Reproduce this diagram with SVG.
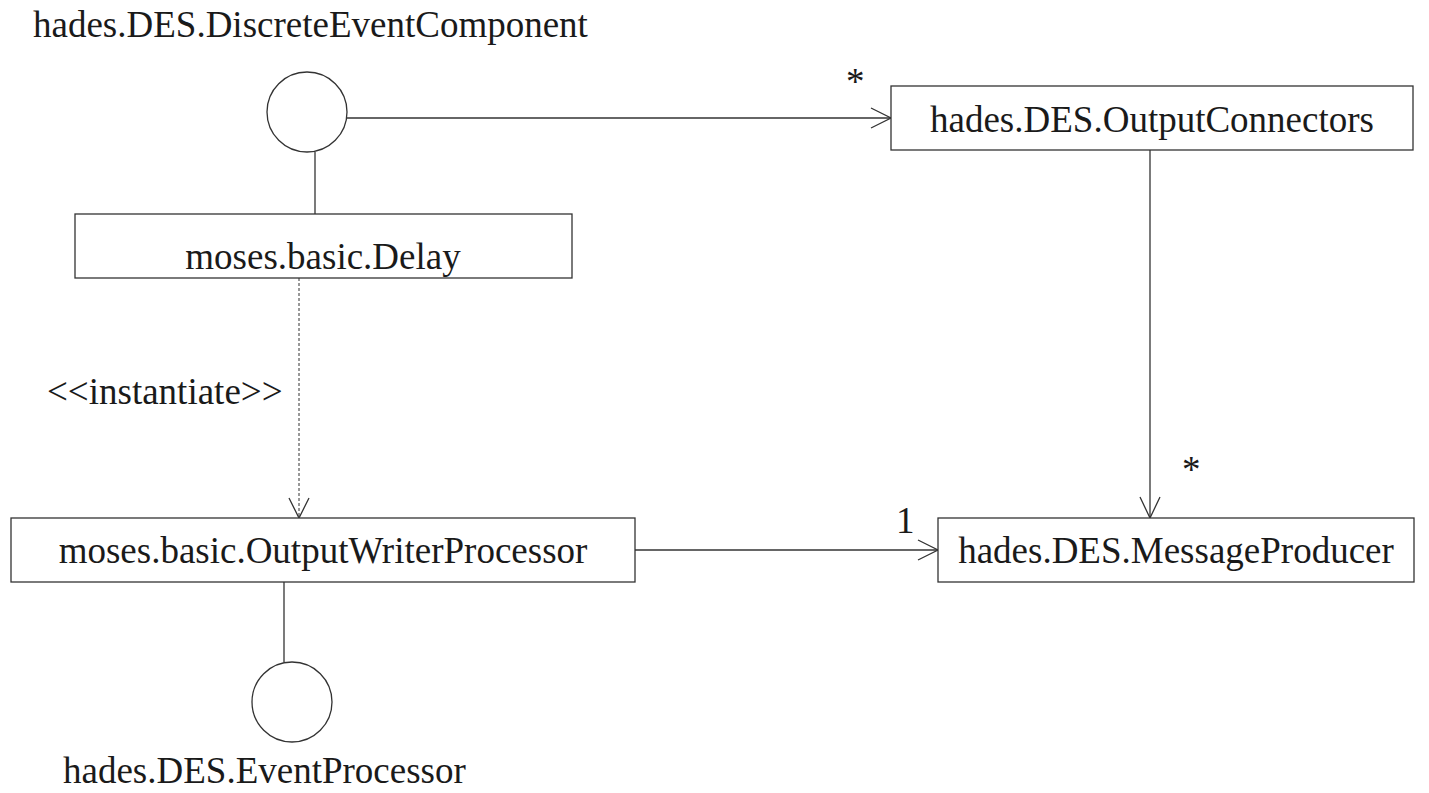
<svg xmlns="http://www.w3.org/2000/svg" width="1429" height="793" viewBox="0 0 1429 793">
  <style>
    .box { fill: #fff; stroke: #333; stroke-width: 1.3; }
    .ln { fill: none; stroke: #333; stroke-width: 1.3; }
    .dash { fill: none; stroke: #333; stroke-width: 1; stroke-dasharray: 3 2; }
    .t { font-family: "Liberation Serif", "Times New Roman", serif; font-size: 37px; fill: #1a1a1a; }
    .c { text-anchor: middle; }
  </style>
  <rect width="1429" height="793" fill="#fff"/>

  <g id="connectors">
    <!-- interface lollipop stems -->
    <line class="ln" x1="315" y1="152" x2="315" y2="214"/>
    <line class="ln" x1="284" y1="582" x2="284" y2="662"/>
    <!-- association to OutputConnectors -->
    <line class="ln" x1="347" y1="118" x2="891" y2="118"/>
    <polyline class="ln" points="871,108 891,118 871,128"/>
    <text class="t" x="846" y="94">*</text>
    <!-- OutputConnectors to MessageProducer -->
    <line class="ln" x1="1150" y1="150" x2="1150" y2="518"/>
    <polyline class="ln" points="1140,497 1150,518 1160,497"/>
    <text class="t" x="1182" y="482">*</text>
    <!-- instantiate dependency -->
    <line class="dash" x1="299" y1="278" x2="299" y2="517"/>
    <polyline class="ln" points="289,498 299,518 309,498"/>
    <text class="t" x="47" y="404">&lt;&lt;instantiate&gt;&gt;</text>
    <!-- OutputWriterProcessor to MessageProducer -->
    <line class="ln" x1="635" y1="550" x2="938" y2="550"/>
    <polyline class="ln" points="918,540 938,550 918,560"/>
    <text class="t" x="896" y="533">1</text>
  </g>

  <g id="discrete-event-component">
    <circle class="box" cx="307" cy="112" r="40"/>
    <text class="t" x="33" y="37">hades.DES.DiscreteEventComponent</text>
  </g>

  <g id="output-connectors">
    <rect class="box" x="891" y="86" width="522" height="64"/>
    <text class="t c" x="1152" y="132">hades.DES.OutputConnectors</text>
  </g>

  <g id="delay">
    <rect class="box" x="75" y="214" width="497" height="64"/>
    <text class="t c" x="323" y="269">moses.basic.Delay</text>
  </g>

  <g id="output-writer-processor">
    <rect class="box" x="11" y="518" width="624" height="64"/>
    <text class="t c" x="323" y="563">moses.basic.OutputWriterProcessor</text>
  </g>

  <g id="message-producer">
    <rect class="box" x="938" y="518" width="476" height="64"/>
    <text class="t c" x="1176" y="563">hades.DES.MessageProducer</text>
  </g>

  <g id="event-processor">
    <circle class="box" cx="292" cy="702" r="40"/>
    <text class="t" x="63" y="783">hades.DES.EventProcessor</text>
  </g>
</svg>
